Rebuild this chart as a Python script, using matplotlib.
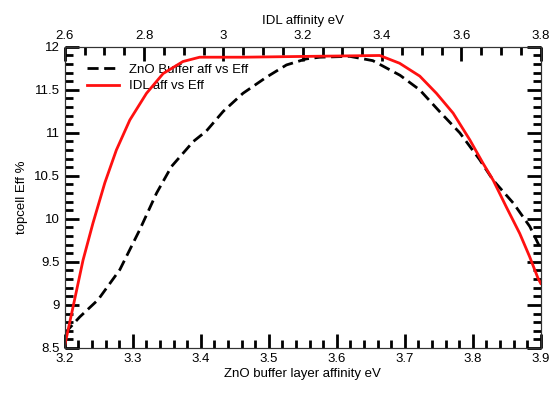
import matplotlib
matplotlib.use("Agg")
import matplotlib.pyplot as plt
from matplotlib.ticker import MultipleLocator, FormatStrFormatter

plt.rcParams["font.family"] = ["Liberation Sans", "DejaVu Sans"]

# ZnO buffer layer affinity (bottom axis) vs efficiency
zno_aff = [3.200, 3.222, 3.249, 3.281, 3.310, 3.335, 3.357, 3.389, 3.408,
           3.433, 3.462, 3.497, 3.526, 3.555, 3.575, 3.619, 3.653, 3.693,
           3.722, 3.751, 3.781, 3.810, 3.830, 3.860, 3.884, 3.900]
zno_eff = [8.67, 8.86, 9.06, 9.41, 9.87, 10.30, 10.61, 10.90, 11.02,
           11.25, 11.46, 11.65, 11.79, 11.86, 11.88, 11.89, 11.84, 11.67,
           11.50, 11.25, 11.00, 10.69, 10.45, 10.18, 9.91, 9.65]

# IDL affinity (top axis) vs efficiency
idl_aff = [2.600, 2.621, 2.646, 2.671, 2.701, 2.730, 2.764, 2.806, 2.848,
           2.898, 2.940, 3.050, 3.218, 3.394, 3.444, 3.495, 3.537, 3.579,
           3.621, 3.654, 3.680, 3.713, 3.747, 3.772, 3.793, 3.800]
idl_eff = [8.53, 8.98, 9.52, 9.95, 10.42, 10.80, 11.15, 11.46, 11.69,
           11.83, 11.88, 11.88, 11.89, 11.90, 11.81, 11.66, 11.46, 11.23,
           10.92, 10.65, 10.45, 10.14, 9.83, 9.56, 9.31, 9.25]

fs = 9.5
fig = plt.figure(figsize=(5.49, 3.94), dpi=100)
ax = fig.add_axes([0.118, 0.117, 0.867, 0.764])
ax2 = ax.twiny()

l1, = ax.plot(zno_aff, zno_eff, color="black", linestyle=(0, (4, 2)), linewidth=2,
              label="ZnO Buffer aff vs Eff")
l2, = ax2.plot(idl_aff, idl_eff, color="#ff1010", linewidth=2, label="IDL aff vs Eff")

ax.set_xlim(3.2, 3.9)
ax.set_ylim(8.5, 12)
ax2.set_xlim(2.6, 3.8)

ax.xaxis.set_major_locator(MultipleLocator(0.1))
ax.xaxis.set_minor_locator(MultipleLocator(0.02))
ax.yaxis.set_major_locator(MultipleLocator(0.5))
ax.yaxis.set_minor_locator(MultipleLocator(0.1))
ax2.xaxis.set_major_locator(MultipleLocator(0.2))
ax2.xaxis.set_minor_locator(MultipleLocator(0.05))
ax.xaxis.set_major_formatter(FormatStrFormatter("%g"))
ax.yaxis.set_major_formatter(FormatStrFormatter("%g"))
ax2.xaxis.set_major_formatter(FormatStrFormatter("%g"))

ax.tick_params(which="both", direction="in", labelsize=fs, color="black",
               width=2, right=True)
ax.tick_params(which="major", length=10)
ax.tick_params(which="minor", length=6)
ax2.tick_params(axis="x", which="both", direction="in", labelsize=fs,
                color="black", width=2)
ax2.tick_params(axis="x", which="major", length=10)
ax2.tick_params(axis="x", which="minor", length=6)
for a in (ax, ax2):
    for s in a.spines.values():
        s.set_color("#333333")

ax.set_xlabel("ZnO buffer layer affinity eV", fontsize=fs, labelpad=2)
ax.set_ylabel("topcell Eff %", fontsize=fs)
ax2.set_xlabel("IDL affinity eV", fontsize=fs, labelpad=4)

ax.legend(handles=[l1, l2], loc="upper left", bbox_to_anchor=(0.03, 0.97),
          frameon=False, fontsize=fs, handlelength=2.4, labelspacing=0.3,
          borderaxespad=0.2)

fig.savefig("out.png", dpi=100)
